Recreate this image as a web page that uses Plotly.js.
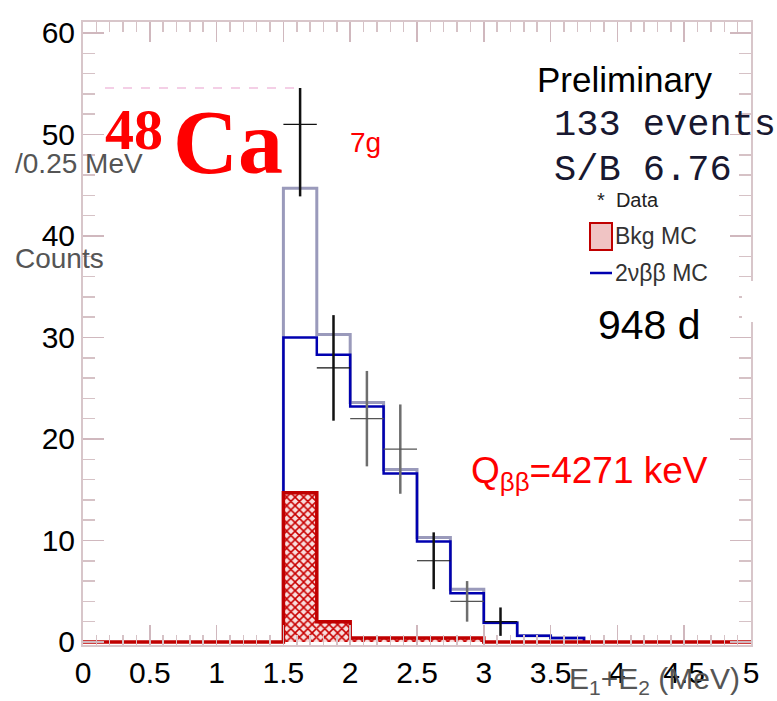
<!DOCTYPE html>
<html>
<head>
<meta charset="utf-8">
<script src="https://cdn.plot.ly/plotly-3.0.1.min.js"></script>
<style>
  html, body { margin: 0; padding: 0; background: #fff; }
  #plot { width: 777px; height: 701px; }
</style>
</head>
<body>
<div id="plot"></div>
<script>
// Summed-energy spectrum, 0.25 MeV bins starting at 1.5 MeV
const binLow    = [1.5, 1.75, 2.0, 2.25, 2.5, 2.75, 3.0, 3.25, 3.5];
const binWidth  = 0.25;
const sigMC     = [30.0, 28.3, 23.2, 16.6, 9.9, 4.8, 1.9, 0.6, 0.4];   // 2vbb MC
const bkgMC     = [14.7, 2.0, 0.4, 0.4, 0.4, 0.4, 0, 0, 0];            // background MC
const dataCounts = [51, 27, 22, 19, 8, 4, 2];                           // observed events
const dataErr    = [7.1, 5.2, 4.7, 4.4, 2.8, 2.0, 1.4];
const dataShade  = ['dark', 'dark', 'gray', 'gray', 'dark', 'gray', 'dark'];

// frame geometry (pixels)
const L = 83, R = 751, T = 22, B = 645;
const px = p => (p - L) / (R - L);
const py = p => (B - p) / (B - T);

const font = 'Liberation Sans, Arial, sans-serif';
const serif = 'Liberation Serif, Times New Roman, serif';
const mono = 'Liberation Mono, Courier New, monospace';
const lastEdge = binLow[binLow.length - 1] + binWidth;

// step outlines built from bin edges
function stepTrace(vals, xStart, xEnd, color, width) {
  return {
    type: 'scatter', mode: 'lines',
    x: [xStart, ...binLow, xEnd],
    y: [0, ...vals, 0],
    line: { shape: 'hv', color: color, width: width },
    hoverinfo: 'skip', showlegend: false
  };
}

const total = sigMC.map((v, i) => v + bkgMC[i]);
const traces = [];
traces.push(stepTrace(total, binLow[0], lastEdge, 'rgba(100,100,150,0.65)', 3));
traces.push(stepTrace(sigMC, binLow[0], lastEdge, '#0000b0', 2.5));

traces.push({
  type: 'bar',
  x: binLow, y: bkgMC, width: binWidth, offset: 0,
  marker: {
    color: '#f6d6d6',
    line: { width: 0 },
    pattern: { shape: 'x', fgcolor: '#c80000', bgcolor: '#f8dede', size: 6, solidity: 0.45 }
  },
  hoverinfo: 'skip', showlegend: false
});
traces.push(stepTrace(bkgMC, 0, 5, '#c00000', 3.5));

// data points with statistical errors, split by stroke shade
['dark', 'gray'].forEach(shade => {
  const idx = dataCounts.map((_, i) => i).filter(i => dataShade[i] === shade);
  traces.push({
    type: 'scatter', mode: 'markers',
    x: idx.map(i => binLow[i] + binWidth / 2),
    y: idx.map(i => dataCounts[i]),
    marker: { size: 1, color: 'rgba(0,0,0,0)' },
    error_y: { type: 'data', array: idx.map(i => dataErr[i]), visible: true,
               color: shade === 'dark' ? '#111' : '#6e6e6e', thickness: 2.5, width: 0 },
    error_x: { type: 'constant', value: binWidth / 2, visible: true,
               color: shade === 'dark' ? '#111' : '#555', thickness: 1.2, width: 0 },
    hoverinfo: 'skip', showlegend: false
  });
});

function note(text, xp, yp, size, color, family) {
  return {
    text: text, xref: 'paper', yref: 'paper', x: px(xp), y: py(yp),
    xanchor: 'left', yanchor: 'middle', showarrow: false, borderpad: 0,
    font: { family: family || font, size: size, color: color }
  };
}

const annotations = [
  note('<b>48</b>', 104, 129, 58, '#ff0000', serif),
  note('<b>Ca</b>', 172, 142, 90, '#ff0000', serif),
  note('7g', 349, 142, 28, '#ff0000'),
  note('Preliminary', 536, 79, 35, '#000'),
  note('133 events', 553, 125, 37, '#181830', mono),
  note('S/B 6.76', 553, 170, 37, '#181830', mono),
  note('*  Data', 596, 200, 20, '#222'),
  note('Bkg MC', 614, 236, 23, '#333'),
  note('2νββ MC', 614, 273, 23, '#333'),
  note('948 d', 597, 325, 41, '#000'),
  note('Q<sub>ββ</sub>=4271 keV', 470, 473, 37, '#ff0000'),
  note('/0.25 MeV', 14, 163, 28, '#555'),
  note('Counts', 14, 258, 28, '#555'),
  note('E<sub>1</sub>+E<sub>2</sub> (MeV)', 568, 680, 30, '#555')
];

const shapes = [
  // white label box partially hiding the first data error bar
  { type: 'rect', xref: 'paper', yref: 'paper', layer: 'above',
    x0: px(104), x1: px(330), y0: py(88), y1: py(44),
    fillcolor: '#fff', line: { width: 0 } },
  { type: 'line', xref: 'paper', yref: 'paper', layer: 'above',
    x0: px(105), x1: px(300), y0: py(88), y1: py(88),
    line: { color: 'rgba(230,150,200,0.6)', width: 1.5, dash: 'dash' } },
  // gap in the right frame
  { type: 'rect', xref: 'paper', yref: 'paper', layer: 'above',
    x0: px(742), x1: px(762), y0: py(322), y1: py(281),
    fillcolor: '#fff', line: { width: 0 } },
  // legend keys
  { type: 'rect', xref: 'paper', yref: 'paper', layer: 'above',
    x0: px(590), x1: px(612), y0: py(250), y1: py(223),
    fillcolor: '#f0c4c4', line: { color: '#c00000', width: 2 } },
  { type: 'line', xref: 'paper', yref: 'paper', layer: 'above',
    x0: px(590), x1: px(612), y0: py(273), y1: py(273),
    line: { color: '#0000b0', width: 2.5 } }
];

const axisCommon = {
  showline: true, linecolor: '#d8c6ca', linewidth: 2, mirror: 'ticks',
  ticks: 'inside', tickcolor: '#d0b8be', tickwidth: 1.5,
  showgrid: false, zeroline: false,
  tickfont: { family: font, size: 30, color: '#000' }
};

const layout = {
  width: 777, height: 701,
  margin: { l: L, r: 777 - R, t: T, b: 701 - B },
  paper_bgcolor: '#fff', plot_bgcolor: '#fff',
  showlegend: false, barmode: 'overlay',
  xaxis: Object.assign({}, axisCommon, {
    range: [0, 5], tick0: 0, dtick: 0.5, ticklen: 20,
    minor: { dtick: 0.1, ticklen: 10, ticks: 'inside', tickcolor: '#d6c2c6', tickwidth: 1.5 }
  }),
  yaxis: Object.assign({}, axisCommon, {
    range: [-0.3, 61.08], tick0: 0, dtick: 10, ticklen: 21,
    minor: { dtick: 2, ticklen: 12, ticks: 'inside', tickcolor: '#d6c2c6', tickwidth: 1.5 }
  }),
  annotations: annotations,
  shapes: shapes
};

Plotly.newPlot('plot', traces, layout, { displayModeBar: false, staticPlot: true });
</script>
</body>
</html>
